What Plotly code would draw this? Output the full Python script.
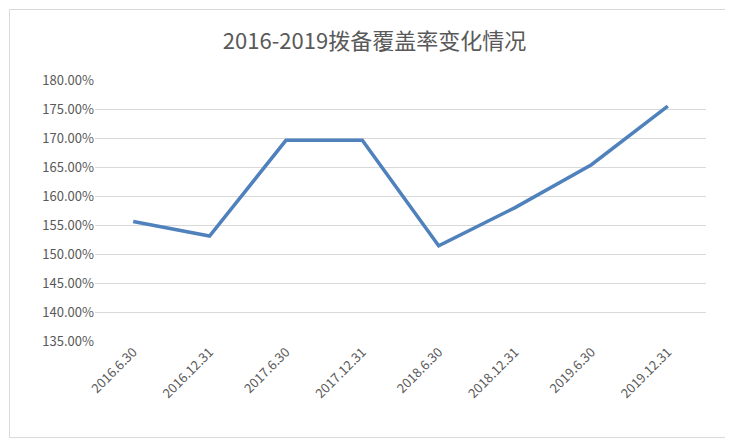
import plotly.graph_objects as go

categories = ["2016.6.30", "2016.12.31", "2017.6.30", "2017.12.31", "2018.6.30", "2018.12.31", "2019.6.30", "2019.12.31"]
values = [1.556, 1.531, 1.696, 1.696, 1.514, 1.580, 1.654, 1.755]
tick_vals = [1.35, 1.40, 1.45, 1.50, 1.55, 1.60, 1.65, 1.70, 1.75, 1.80]

fig = go.Figure(go.Scatter(x=categories, y=values, mode="lines",
                           line=dict(color="#4F81BD", width=3.5)))
fig.update_layout(
    width=733, height=443, paper_bgcolor="white", plot_bgcolor="white",
    margin=dict(l=87, r=35, t=72, b=110),
    title=dict(text="2016-2019拨备覆盖率变化情况", x=0.5, xanchor="center", y=0.925, yanchor="middle",
               font=dict(family="Noto Sans CJK SC", size=22, color="#595959")),
    font=dict(family="Noto Sans CJK SC", color="#595959", size=13),
    showlegend=False,
    shapes=[dict(type="rect", xref="paper", yref="paper", x0=-0.14, x1=1.044, y0=-0.37, y1=1.27,
                 line=dict(color="#D9D9D9", width=1))],
)
fig.update_xaxes(type="category", range=[-0.5, 7.5], tickangle=-45, showgrid=False,
                 showline=False, ticks="", tickfont=dict(size=13, color="#595959"))
fig.update_yaxes(range=[1.35, 1.80], tickvals=tick_vals, tickformat=".2%", showgrid=True,
                 gridcolor="#D9D9D9", zeroline=False, ticks="", tickfont=dict(size=13, color="#595959"))
fig.write_html("out.html")
